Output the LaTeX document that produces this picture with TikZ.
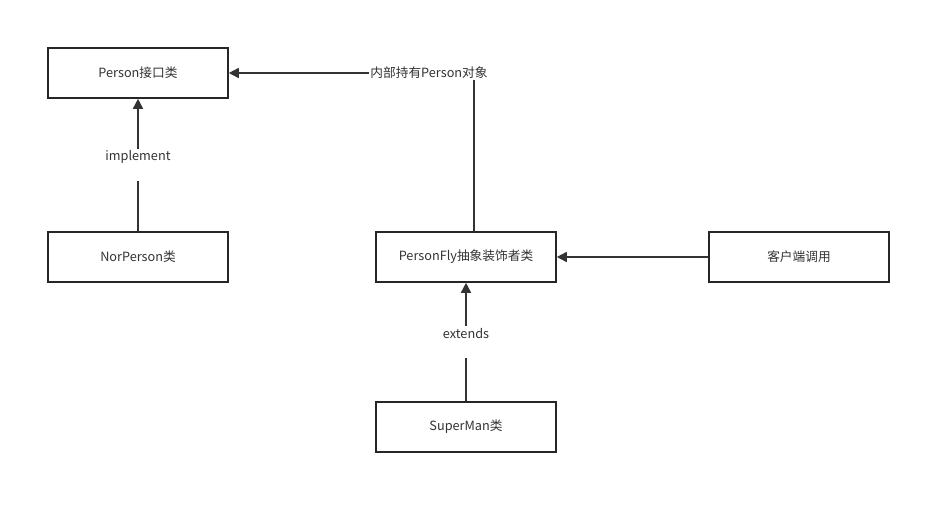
\documentclass[tikz,border=0pt]{standalone}
\usepackage{fontspec}
\setmainfont{Noto Sans CJK SC}
\usetikzlibrary{arrows.meta}
\definecolor{ink}{HTML}{333333}
\tikzset{
  box/.style={draw=black!85, line width=1.6pt, minimum width=180pt, minimum height=50pt, inner sep=0pt, text=ink, font=\fontsize{12.7}{14}\selectfont},
  conn/.style={draw=ink, line width=1.6pt, -{Triangle[length=10pt,width=10pt]}},
  lbl/.style={fill=white, text=ink, inner sep=1pt, font=\fontsize{12.7}{14}\selectfont},
  gap/.style={fill=white, inner sep=0pt, minimum width=70pt}
}
\begin{document}
\begin{tikzpicture}[x=1pt,y=-1pt]
\useasboundingbox[fill=white] (0,0) rectangle (951,514);
\node[box] (person) at (138,73) {Person接口类};
\node[box] (nor) at (138,257) {NorPerson类};
\node[box] (fly) at (466,257) {PersonFly抽象装饰者类};
\node[box] (client) at (799,257) {客户端调用};
\node[box] (super) at (466,427) {SuperMan类};
\coordinate (corner) at (474,73);
\draw[conn] (nor) -- (person);
\draw[conn] (super) -- (fly);
\draw[conn] (client) -- (fly);
\draw[conn] (fly.north -| corner) -- (corner) -- (person.east);
\node[gap, minimum height=32pt] (g1) at (138,164.5) {};
\node[lbl] (impl) at (138,157) {implement};
\node[gap, minimum height=32pt] (g2) at (466,341.5) {};
\node[lbl] (ext) at (466,334) {extends};
\node[lbl] (hold) at (429,73) {内部持有Person对象};
\end{tikzpicture}
\end{document}
